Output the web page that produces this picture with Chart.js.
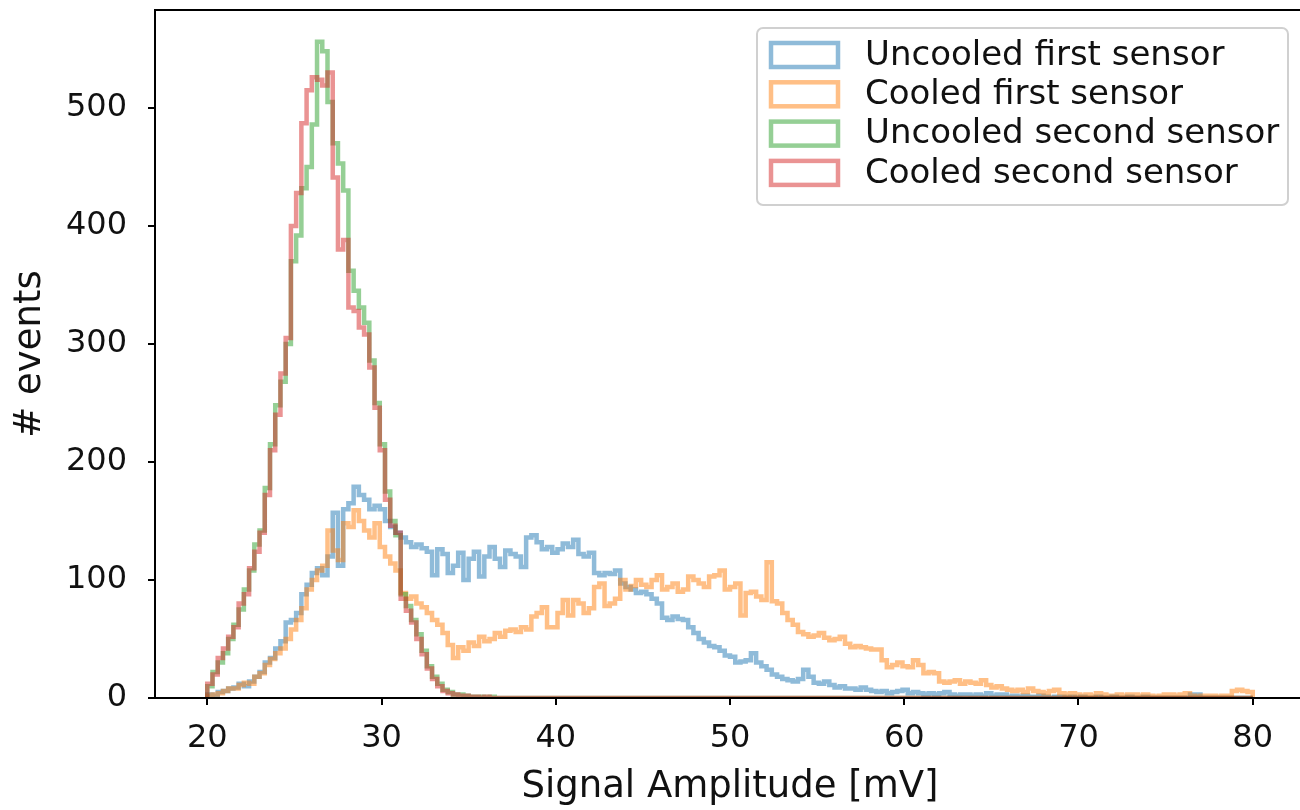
<!DOCTYPE html>
<html>
<head>
<meta charset="utf-8">
<script src="https://cdn.jsdelivr.net/npm/chart.js@4.4.1/dist/chart.umd.min.js"></script>
<style>
  html, body { margin: 0; padding: 0; background: #fff; overflow: hidden; }
  #wrap { width: 1300px; height: 810px; overflow: hidden; }
</style>
</head>
<body>
<div id="wrap"><canvas id="hist" width="1310" height="810"></canvas></div>
<script>
// histogram binning: 200 bins of 0.3 mV from 20 to 80 mV
const BIN_START = 20;
const BIN_WIDTH = 0.3;

const X_TICKS = [20, 30, 40, 50, 60, 70, 80];
const Y_TICKS = [0, 100, 200, 300, 400, 500];

const SERIES_LABELS = [
  'Uncooled first sensor',
  'Cooled first sensor',
  'Uncooled second sensor',
  'Cooled second sensor',
];

// counts per bin
const uncooledFirst = [
  3, 2, 5, 6, 8, 9, 12, 10, 14, 18, 22, 30, 34, 42, 48, 64, 66, 72, 88, 96,
  106, 110, 104, 120, 157, 112, 160, 165, 179, 172, 168, 160, 163, 160, 150, 145, 140, 136, 132, 128,
  130, 127, 124, 104, 126, 122, 106, 112, 123, 100, 118, 124, 103, 120, 128, 118, 111, 125, 122, 120,
  111, 136, 138, 132, 126, 128, 123, 126, 131, 128, 134, 122, 120, 123, 106, 104, 106, 105, 108, 97,
  94, 92, 89, 90, 88, 84, 80, 68, 66, 69, 67, 66, 60, 55, 50, 47, 44, 43, 40, 36,
  35, 30, 31, 32, 38, 30, 27, 24, 20, 18, 16, 15, 14, 16, 24, 18, 13, 12, 14, 11,
  9, 10, 8, 8, 7, 9, 7, 6, 5, 6, 4, 5, 6, 7, 4, 5, 4, 3, 4, 3,
  4, 5, 3, 2, 3, 3, 2, 3, 2, 4, 2, 3, 3, 1, 2, 1, 2, 1, 1, 2,
  1, 0, 1, 1, 0, 1, 0, 1, 0, 0, 1, 0, 0, 1, 0, 0, 1, 0, 0, 1,
  0, 0, 0, 0, 0, 0, 0, 0, 3, 3, 0, 0, 0, 0, 0, 0, 0, 0, 0, 0,
];

const cooledFirst = [
  2, 3, 4, 6, 8, 8, 11, 13, 12, 18, 21, 28, 33, 38, 42, 50, 58, 66, 76, 92,
  100, 108, 112, 142, 125, 117, 148, 145, 159, 150, 142, 136, 148, 128, 120, 114, 108, 89, 84, 86,
  80, 77, 72, 66, 62, 55, 45, 34, 43, 40, 47, 44, 52, 48, 50, 55, 52, 57, 58, 56,
  60, 58, 69, 72, 77, 60, 60, 72, 83, 70, 83, 80, 72, 76, 94, 97, 78, 80, 84, 100,
  92, 95, 100, 96, 94, 100, 104, 92, 94, 97, 90, 92, 103, 100, 97, 94, 103, 104, 108, 92,
  94, 97, 70, 89, 90, 86, 83, 115, 82, 80, 72, 66, 62, 56, 54, 52, 53, 55, 51, 49,
  50, 52, 46, 43, 44, 43, 42, 41, 41, 32, 26, 28, 30, 27, 26, 32, 28, 21, 22, 21,
  14, 13, 14, 15, 12, 14, 13, 12, 15, 11, 9, 10, 8, 7, 6, 7, 5, 8, 6, 5,
  4, 6, 7, 4, 3, 4, 3, 2, 3, 2, 4, 3, 2, 2, 3, 2, 3, 3, 2, 3,
  2, 1, 2, 3, 3, 2, 3, 4, 2, 1, 2, 2, 2, 1, 2, 2, 6, 7, 6, 5,
];

const uncooledSecond = [
  10, 22, 30, 38, 50, 62, 75, 92, 108, 130, 142, 178, 215, 248, 268, 300, 370, 392, 432, 450,
  486, 556, 548, 505, 470, 453, 430, 362, 345, 331, 318, 286, 250, 215, 175, 150, 138, 88, 78, 66,
  54, 40, 27, 18, 12, 7, 5, 3, 3, 2, 1, 1, 1, 0, 1, 0, 0, 0, 0, 0,
  0, 0, 0, 0, 0, 0, 0, 0, 0, 0, 0, 0, 0, 0, 0, 0, 0, 0, 0, 0,
  0, 0, 0, 0, 0, 0, 0, 0, 0, 0, 0, 0, 0, 0, 0, 0, 0, 0, 0, 0,
  0, 0, 0, 0, 0, 0, 0, 0, 0, 0, 0, 0, 0, 0, 0, 0, 0, 0, 0, 0,
  0, 0, 0, 0, 0, 0, 0, 0, 0, 0, 0, 0, 0, 0, 0, 0, 0, 0, 0, 0,
  0, 0, 0, 0, 0, 0, 0, 0, 0, 0, 0, 0, 0, 0, 0, 0, 0, 0, 0, 0,
  0, 0, 0, 0, 0, 0, 0, 0, 0, 0, 0, 0, 0, 0, 0, 0, 0, 0, 0, 0,
  0, 0, 0, 0, 0, 0, 0, 0, 0, 0, 0, 0, 0, 0, 0, 0, 0, 0, 0, 0,
];

const cooledSecond = [
  12, 20, 34, 42, 52, 60, 80, 88, 110, 124, 140, 172, 210, 240, 275, 305, 400, 428, 487, 515,
  526, 524, 519, 530, 441, 380, 388, 331, 328, 314, 308, 280, 246, 210, 168, 146, 140, 84, 74, 64,
  50, 37, 25, 16, 10, 6, 4, 3, 2, 2, 1, 1, 0, 1, 0, 0, 0, 0, 0, 0,
  0, 0, 0, 0, 0, 0, 0, 0, 0, 0, 0, 0, 0, 0, 0, 0, 0, 0, 0, 0,
  0, 0, 0, 0, 0, 0, 0, 0, 0, 0, 0, 0, 0, 0, 0, 0, 0, 0, 0, 0,
  0, 0, 0, 0, 0, 0, 0, 0, 0, 0, 0, 0, 0, 0, 0, 0, 0, 0, 0, 0,
  0, 0, 0, 0, 0, 0, 0, 0, 0, 0, 0, 0, 0, 0, 0, 0, 0, 0, 0, 0,
  0, 0, 0, 0, 0, 0, 0, 0, 0, 0, 0, 0, 0, 0, 0, 0, 0, 0, 0, 0,
  0, 0, 0, 0, 0, 0, 0, 0, 0, 0, 0, 0, 0, 0, 0, 0, 0, 0, 0, 0,
  0, 0, 0, 0, 0, 0, 0, 0, 0, 0, 0, 0, 0, 0, 0, 0, 0, 0, 0, 0,
];

const SERIES_COLORS = [
  'rgba(31,119,180,0.5)',
  'rgba(255,127,14,0.5)',
  'rgba(44,160,44,0.5)',
  'rgba(214,39,40,0.5)',
];

const FONT = "'DejaVu Sans', sans-serif";

// turn bin counts into the outline of a step histogram
function stepPoints(counts) {
  const pts = [{ x: BIN_START, y: 0 }];
  counts.forEach((c, i) => pts.push({ x: BIN_START + i * BIN_WIDTH, y: c }));
  const end = BIN_START + counts.length * BIN_WIDTH;
  pts.push({ x: end, y: counts[counts.length - 1] });
  pts.push({ x: end, y: 0 });
  return pts;
}

// axes frame drawn over the histograms (like matplotlib spines)
const framePlugin = {
  id: 'frame',
  afterDatasetsDraw(chart) {
    const { ctx, chartArea: a } = chart;
    ctx.save();
    ctx.strokeStyle = '#000';
    ctx.lineWidth = 2;
    ctx.strokeRect(a.left, a.top, a.right - a.left, a.bottom - a.top);
    ctx.restore();
  },
};

// matplotlib style legend box in the upper right of the axes
const boxLegend = {
  id: 'boxLegend',
  afterDraw(chart) {
    const { ctx, chartArea: a } = chart;
    const right = a.right - 17;
    const left = right - 531;
    const top = a.top + 18;
    const bottom = top + 177;
    ctx.save();
    ctx.beginPath();
    ctx.roundRect(left, top, right - left, bottom - top, 6);
    ctx.fillStyle = 'rgba(255,255,255,0.8)';
    ctx.fill();
    ctx.strokeStyle = '#d0d0d0';
    ctx.lineWidth = 2;
    ctx.stroke();

    ctx.font = '34px ' + FONT;
    ctx.textBaseline = 'middle';
    ctx.fillStyle = '#111';
    chart.data.datasets.forEach((ds, i) => {
      const cy = top + 27 + i * 39.3;
      ctx.strokeStyle = ds.borderColor;
      ctx.lineWidth = 4.5;
      ctx.strokeRect(left + 14, cy - 12, 67, 24);
      ctx.fillText(ds.label, left + 108, cy + 1);
    });
    ctx.restore();
  },
};

const datasets = [uncooledFirst, cooledFirst, uncooledSecond, cooledSecond].map((counts, i) => ({
  label: SERIES_LABELS[i],
  data: stepPoints(counts),
  borderColor: SERIES_COLORS[i],
  backgroundColor: 'transparent',
  borderWidth: 4.5,
  stepped: true,
  pointRadius: 0,
  borderJoinStyle: 'miter',
  borderCapStyle: 'butt',
  fill: false,
  order: 3 - i,
}));

Chart.defaults.font.family = FONT;
Chart.defaults.color = '#111';

new Chart(document.getElementById('hist'), {
  type: 'line',
  data: { datasets },
  plugins: [framePlugin, boxLegend],
  options: {
    responsive: false,
    animation: false,
    events: [],
    layout: { padding: { top: 10, right: 5, left: 0, bottom: 0 } },
    plugins: {
      legend: { display: false },
      tooltip: { enabled: false },
    },
    scales: {
      x: {
        type: 'linear',
        min: 17,
        max: 83,
        afterFit: (s) => { s.height = 112; s.paddingLeft = 0; s.paddingRight = 0; },
        afterBuildTicks: (s) => { s.ticks = X_TICKS.map(v => ({ value: v })); },
        border: { display: false },
        grid: { display: true, drawOnChartArea: false, color: '#000', lineWidth: 2, tickLength: 7 },
        ticks: { font: { size: 32 }, padding: 14, maxRotation: 0, autoSkip: false },
        title: { display: true, text: 'Signal Amplitude [mV]', font: { size: 37 }, padding: { top: 0, bottom: 0 } },
      },
      y: {
        type: 'linear',
        min: 0,
        max: 583,
        afterFit: (s) => { s.width = 155; s.paddingTop = 0; s.paddingBottom = 0; },
        afterBuildTicks: (s) => { s.ticks = Y_TICKS.map(v => ({ value: v })); },
        border: { display: false },
        grid: { display: true, drawOnChartArea: false, color: '#000', lineWidth: 2, tickLength: 7 },
        ticks: { font: { size: 32 }, padding: 21, autoSkip: false },
        title: { display: true, text: '# events', font: { size: 37 }, padding: { top: 8, bottom: 0 } },
      },
    },
  },
});
</script>
</body>
</html>
